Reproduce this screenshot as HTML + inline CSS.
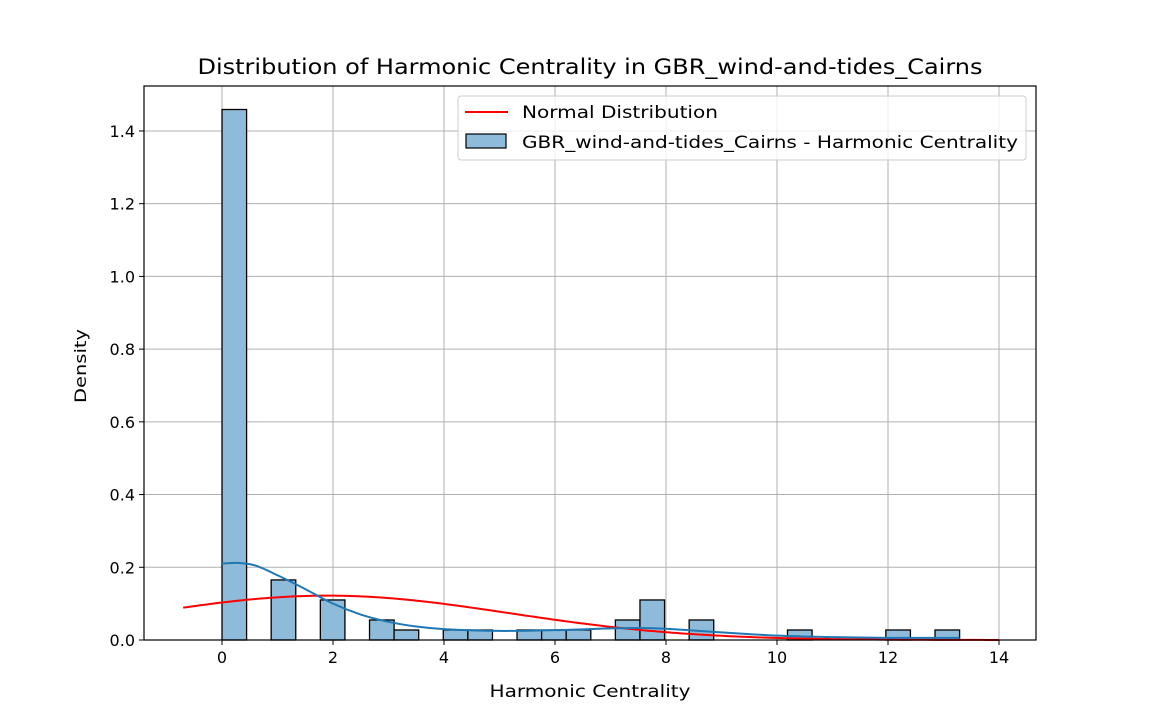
<!DOCTYPE html>
<html><head><meta charset="utf-8"><style>
html,body{margin:0;padding:0;background:#fff;}
svg{display:block;font-family:"DejaVu Sans","Liberation Sans",sans-serif;}
</style></head><body>
<svg id="chart" width="1152" height="720" viewBox="0 0 1152 720">
<text x="590" y="74" font-size="21" text-anchor="middle" textLength="785" lengthAdjust="spacingAndGlyphs">Distribution of Harmonic Centrality in GBR_wind-and-tides_Cairns</text>
<g id="grid"></g><g id="bars"></g><g id="curves"></g>
<rect x="144" y="86" width="892" height="554" fill="none" stroke="#000" stroke-width="1.2"/>
<g id="ticks"></g>
<text x="590" y="697" font-size="17" text-anchor="middle" textLength="201" lengthAdjust="spacingAndGlyphs">Harmonic Centrality</text>
<text x="86" y="366" font-size="16" text-anchor="middle" textLength="74" lengthAdjust="spacingAndGlyphs" transform="rotate(-90 86 366)">Density</text>
<g>
<rect x="458" y="96" width="568" height="64" rx="3" fill="#fff" fill-opacity="0.8" stroke="#ccc"/>
<line x1="465" y1="112" x2="508" y2="112" stroke="#f00" stroke-width="2"/>
<text x="522" y="118" font-size="17" textLength="196" lengthAdjust="spacingAndGlyphs">Normal Distribution</text>
<rect x="466" y="134" width="40" height="14" fill="#8fbbda" stroke="#000" stroke-width="1.2"/>
<text x="522" y="148" font-size="17" textLength="496" lengthAdjust="spacingAndGlyphs">GBR_wind-and-tides_Cairns - Harmonic Centrality</text>
</g>
</svg>
<script>
const binCounts=[53,0,6,0,4,0,2,1,0,1,1,0,1,1,1,0,2,4,0,2,0,0,0,1,0,0,0,1,0,1];
const binStart=0, binEnd=13.29;
const kdeX=[0,0.3,0.6,1,1.5,2,2.5,3,3.5,4,5,6,7,7.5,8,9,10,11,12,13.29];
const kdeY=[0.21,0.212,0.205,0.178,0.14,0.1,0.07,0.05,0.037,0.03,0.025,0.027,0.032,0.033,0.031,0.021,0.012,0.008,0.006,0.006];
const normMean=1.9, normStd=3.27, normFrom=-0.7, normTo=14;
const xTicks=[0,2,4,6,8,10,12,14];
const yTicks=[0,0.2,0.4,0.6,0.8,1.0,1.2,1.4];
const NS="http://www.w3.org/2000/svg";
const X=v=>222+v*55.5, Y=v=>640-v*363.6;
function mk(p,t,a){const e=document.createElementNS(NS,t);for(const k in a)e.setAttribute(k,a[k]);document.getElementById(p).appendChild(e);return e;}
xTicks.forEach(t=>{
 const g=mk('grid','line',{x1:X(t),x2:X(t),y1:86,y2:640,stroke:'#b0b0b0','stroke-width':1});
 
 
 mk('ticks','line',{x1:X(t),x2:X(t),y1:640,y2:645,stroke:'#000'});
 const l=mk('ticks','text',{x:X(t),y:663,'font-size':16,'text-anchor':'middle'});l.textContent=t;
 
 
});
yTicks.forEach(t=>{
 const g=mk('grid','line',{x1:144,x2:1036,y1:Y(t),y2:Y(t),stroke:'#b0b0b0','stroke-width':1});
 
 
 mk('ticks','line',{x1:139,x2:144,y1:Y(t),y2:Y(t),stroke:'#000'});
 const l=mk('ticks','text',{x:135,y:Y(t)+6,'font-size':16,'text-anchor':'end'});l.textContent=t.toFixed(1);
 
 
});
const N=binCounts.reduce((a,b)=>a+b,0), w=(binEnd-binStart)/binCounts.length;
binCounts.forEach((c,i)=>{
 if(!c)return;
 const d=c/(N*w), x0=binStart+i*w;
 const r=mk('bars','rect',{x:X(x0),y:Y(d),width:X(x0+w)-X(x0),height:Y(0)-Y(d),fill:'#8fbbda',stroke:'#000','stroke-width':1.3});
 
 
});
let pts=[];for(let i=0;i<=200;i++){const v=normFrom+(normTo-normFrom)*i/200;const d=Math.exp(-((v-normMean)**2)/(2*normStd*normStd))/(normStd*Math.sqrt(2*Math.PI));pts.push(X(v)+','+Y(d));}
const nl=mk('curves','polyline',{points:pts.join(' '),fill:'none',stroke:'#f00','stroke-width':2});


const P=kdeX.map((v,i)=>[X(v),Y(kdeY[i])]);
let kp='M'+P[0].join(',');
for(let i=0;i<P.length-1;i++){const p0=P[i-1]||P[i],p1=P[i],p2=P[i+1],p3=P[i+2]||P[i+1];
 kp+=' C'+(p1[0]+(p2[0]-p0[0])/6)+','+(p1[1]+(p2[1]-p0[1])/6)+' '+(p2[0]-(p3[0]-p1[0])/6)+','+(p2[1]-(p3[1]-p1[1])/6)+' '+p2[0]+','+p2[1];}
const kl=mk('curves','path',{d:kp,fill:'none',stroke:'#1f77b4','stroke-width':2,'stroke-linejoin':'round'});


</script>
</body></html>
